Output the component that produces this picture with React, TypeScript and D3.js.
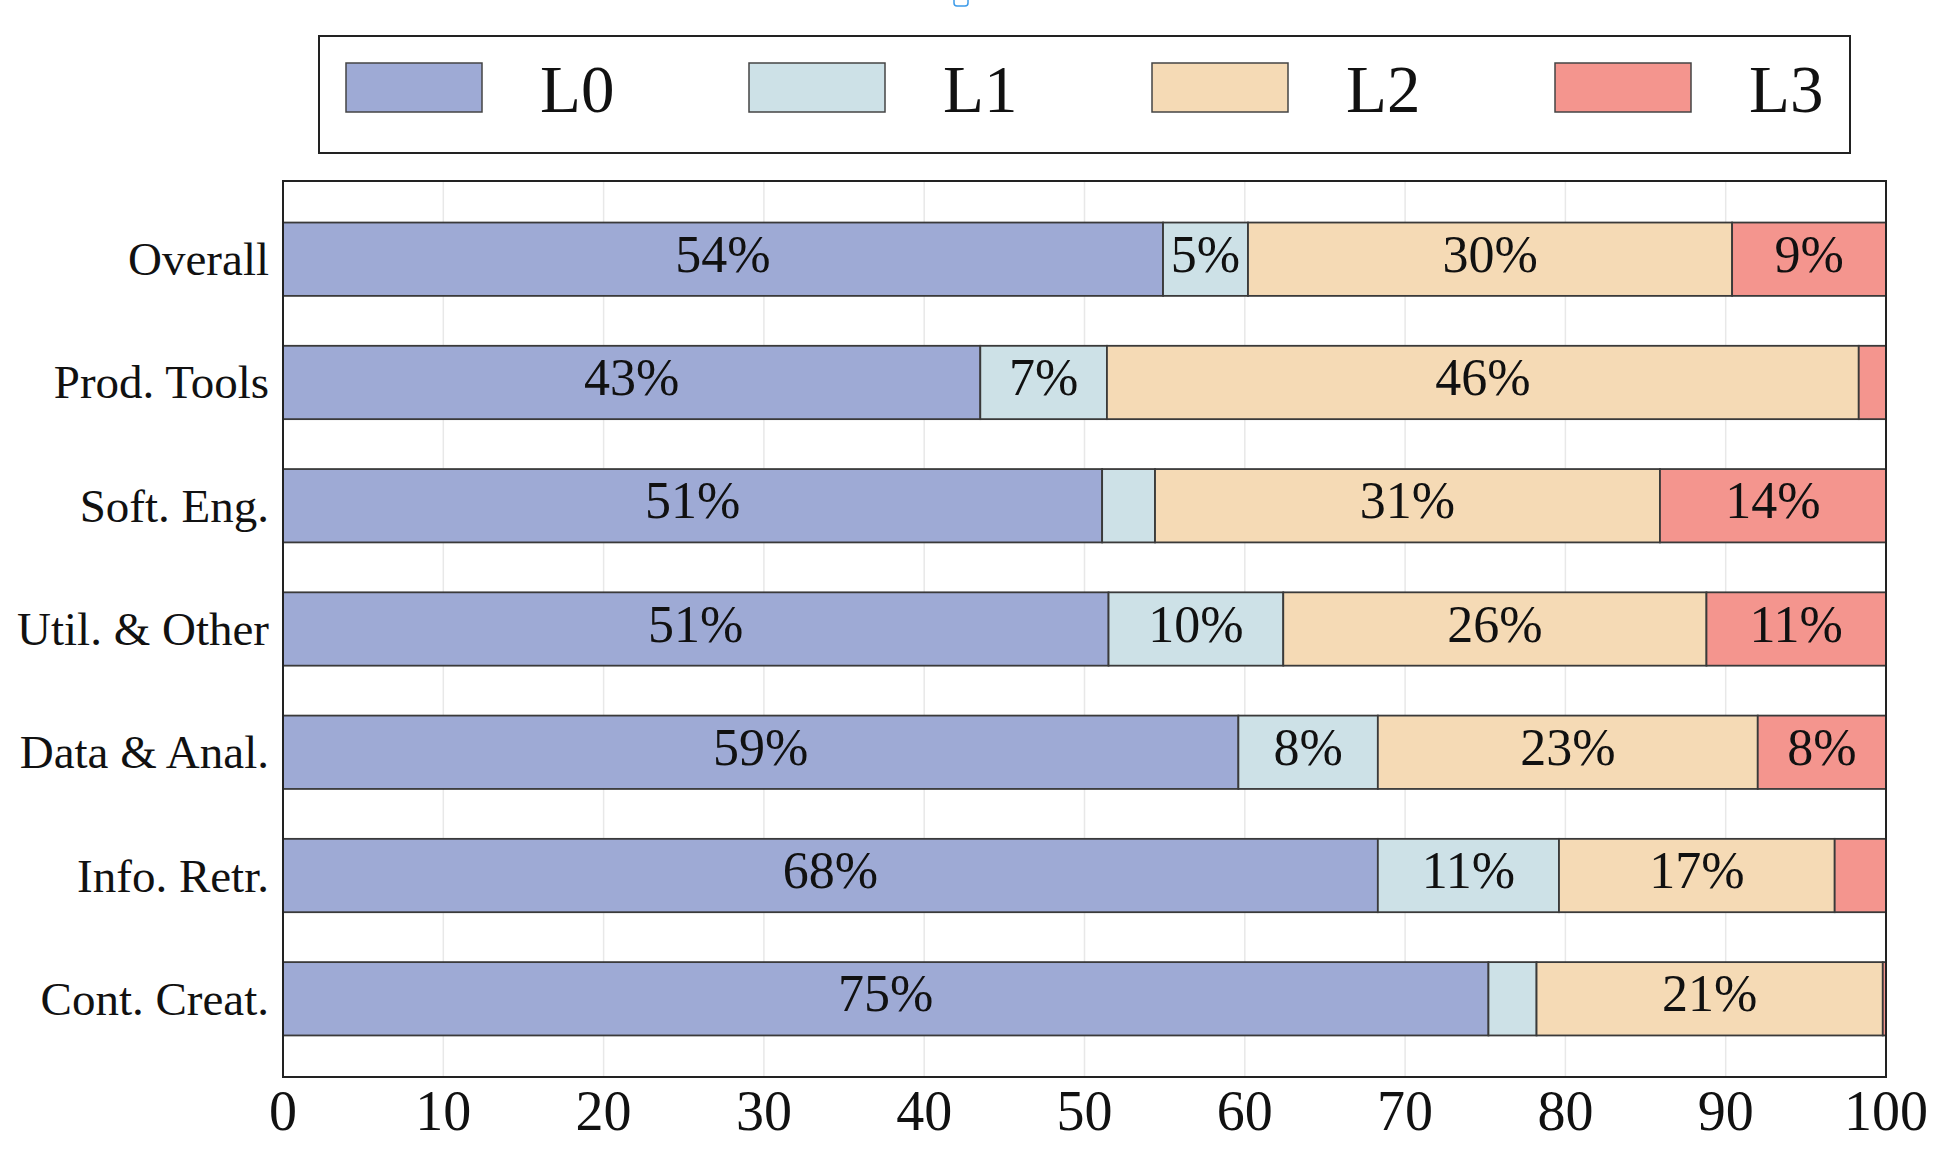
import * as d3 from "d3";

const categories = [
  "Overall",
  "Prod. Tools",
  "Soft. Eng.",
  "Util. & Other",
  "Data & Anal.",
  "Info. Retr.",
  "Cont. Creat.",
];
const levels = ["L0", "L1", "L2", "L3"];
const l0 = [54.9, 43.5, 51.1, 51.5, 59.6, 68.3, 75.2];
const l1 = [5.3, 7.9, 3.3, 10.9, 8.7, 11.3, 3.0];
const l2 = [30.2, 46.9, 31.5, 26.4, 23.7, 17.2, 21.6];
const l3 = [9.6, 1.7, 14.1, 11.2, 8.0, 3.2, 0.2];
const xTicks = [0, 10, 20, 30, 40, 50, 60, 70, 80, 90, 100];

const colors = ["#9eaad5", "#cde1e7", "#f5dab5", "#f4958e"];
const font = "'Liberation Serif', 'Times New Roman', serif";

const W = 1938;
const H = 1164;
const plot = { left: 283, right: 1886, top: 181, bottom: 1077 };

export default function App() {
  const x = d3.scaleLinear().domain([0, 100]).range([plot.left, plot.right]);
  const y = d3
    .scaleBand()
    .domain(categories)
    .range([plot.top, plot.bottom])
    .paddingInner(0.405)
    .paddingOuter(0.337);

  const rows = categories.map((c, i) => ({ name: c, L0: l0[i], L1: l1[i], L2: l2[i], L3: l3[i] }));
  const series = d3.stack<any>().keys(levels)(rows);

  // legend layout
  const legendX = d3.scalePoint().domain(levels).range([346, 1555]);

  return (
    <svg
      width={W}
      height={H}
      viewBox={`0 0 ${W} ${H}`}
      style={{ position: "absolute", left: 0, top: 0, background: "#fff" }}
      fontFamily={font}
    >
      <rect x={954} y={-6} width={14} height={12} rx={3} fill="#fff" stroke="#3d9be9" strokeWidth={1.5} />

      {/* legend */}
      <rect x={319} y={36} width={1531} height={117} fill="#fff" stroke="#222" strokeWidth={2} />
      {levels.map((k, i) => (
        <g key={k}>
          <rect
            x={legendX(k)}
            y={63}
            width={136}
            height={49}
            fill={colors[i]}
            stroke="#444"
            strokeWidth={1.5}
          />
          <text x={(legendX(k) || 0) + 194} y={112} fontSize={67} fill="#111">
            {k}
          </text>
        </g>
      ))}

      {/* grid */}
      {xTicks.slice(1, -1).map((t) => (
        <line key={t} x1={x(t)} x2={x(t)} y1={plot.top} y2={plot.bottom} stroke="#e8e8e8" strokeWidth={1.5} />
      ))}

      {/* bars */}
      {series.map((s, si) => (
        <g key={s.key}>
          {s.map((d, i) => {
            const v = d[1] - d[0];
            const y0 = y(categories[i]) || 0;
            return (
              <g key={i}>
                <rect
                  x={x(d[0])}
                  y={y0}
                  width={x(d[1]) - x(d[0])}
                  height={y.bandwidth()}
                  fill={colors[si]}
                  stroke="#3a3a3a"
                  strokeWidth={1.8}
                />
                {v >= 5 && (
                  <text
                    x={(x(d[0]) + x(d[1])) / 2}
                    y={y0 + y.bandwidth() / 2 + 12.5}
                    textAnchor="middle"
                    fontSize={52}
                    fill="#111"
                  >
                    {`${Math.floor(v + 1e-9)}%`}
                  </text>
                )}
              </g>
            );
          })}
        </g>
      ))}

      {/* frame */}
      <rect
        x={plot.left}
        y={plot.top}
        width={plot.right - plot.left}
        height={plot.bottom - plot.top}
        fill="none"
        stroke="#222"
        strokeWidth={2}
      />

      {/* category labels */}
      {categories.map((c) => (
        <text
          key={c}
          x={plot.left - 14}
          y={(y(c) || 0) + y.bandwidth() / 2 + 16}
          textAnchor="end"
          fontSize={47}
          fill="#111"
        >
          {c}
        </text>
      ))}

      {/* x tick labels */}
      {xTicks.map((t) => (
        <text key={t} x={x(t)} y={1130} textAnchor="middle" fontSize={56} fill="#111">
          {t}
        </text>
      ))}
    </svg>
  );
}
